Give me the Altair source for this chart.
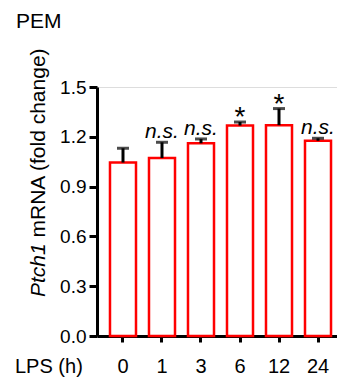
import altair as alt
import pandas as pd

# ---- data ----
categories = ["0", "1", "3", "6", "12", "24"]
means = [1.045, 1.072, 1.161, 1.268, 1.270, 1.176]
errors = [0.086, 0.095, 0.026, 0.021, 0.100, 0.015]
marks = ["", "n.s.", "n.s.", "*", "*", "n.s."]
y_ticks = [0.0, 0.3, 0.6, 0.9, 1.2, 1.5]

panel_title = "PEM"
x_title = "LPS (h)"
y_title_gene = "Ptch1"
y_title_rest = "mRNA (fold change)"

FONT = "Liberation Sans"
RED = "#ff0000"

df = pd.DataFrame({
    "cat": categories,
    "mean": means,
    "err": errors,
    "mark": marks,
})
df["top"] = df["mean"] + df["err"]

x_enc = alt.X(
    "cat:N",
    sort=None,
    scale=alt.Scale(range=[0, 247], paddingInner=0.333, paddingOuter=0.333),
    axis=alt.Axis(
        title=None, labelAngle=0, labelFontSize=20, labelFont=FONT,
        labelColor="black", labelBaseline="alphabetic", labelPadding=30,
        domainColor="black", domainWidth=3, tickColor="black", tickWidth=3,
        tickSize=6,
    ),
)
y_scale = alt.Scale(domain=[0, 1.5], nice=False, zero=True)
y_axis = alt.Axis(
    title=None, values=y_ticks, format=".1f", labelFontSize=19, labelFont=FONT,
    labelColor="black", labelPadding=3, domainColor="black", domainWidth=3,
    tickColor="black", tickWidth=3, tickSize=8, grid=False,
)

base = alt.Chart(df)

bars = base.mark_bar(fill="white", stroke=RED, strokeWidth=2.5).encode(
    x=x_enc, y=alt.Y("mean:Q", scale=y_scale, axis=y_axis)
)
err_rule = base.mark_rule(color="black", strokeWidth=3).encode(
    x=alt.X("cat:N", sort=None), y="mean:Q", y2="top:Q"
)
caps = base.mark_tick(color="black", thickness=3, size=12).encode(
    x=alt.X("cat:N", sort=None), y="top:Q"
)
ns_text = base.transform_filter(alt.datum.mark == "n.s.").mark_text(
    font=FONT, fontSize=21, fontStyle="italic", baseline="alphabetic",
    align="center", dy=-4, color="black",
).encode(x=alt.X("cat:N", sort=None), y="top:Q", text="mark:N")
star_text = base.transform_filter(alt.datum.mark == "*").mark_text(
    font=FONT, fontSize=28, baseline="alphabetic", align="center", dy=4,
    color="black",
).encode(x=alt.X("cat:N", sort=None), y="top:Q", text="mark:N")

def label(txt, x, y, **kw):
    return alt.Chart(pd.DataFrame({"t": [txt]})).mark_text(
        font=FONT, color="black", baseline="alphabetic", align="left", **kw
    ).encode(x=alt.value(x), y=alt.value(y), text="t:N")

pem = label(panel_title, -81, -59, fontSize=21)
lps = label(x_title, -82, 286, fontSize=20)
yt1 = label(y_title_gene, -52, 210, fontSize=21, angle=270, fontStyle="italic")
yt2 = label(y_title_rest, -52, 210 - 59.5, fontSize=21, angle=270)

chart = alt.layer(
    bars, err_rule, caps, ns_text, star_text, pem, lps, yt1, yt2
).properties(
    width=240, height=249,
    autosize=alt.AutoSizeParams(type="none"),
    padding={"left": 97, "top": 87, "right": 0, "bottom": 45},
).configure_view(stroke=None).configure(font=FONT)

chart.save("out.html", embed_options={"renderer": "svg", "actions": False})
